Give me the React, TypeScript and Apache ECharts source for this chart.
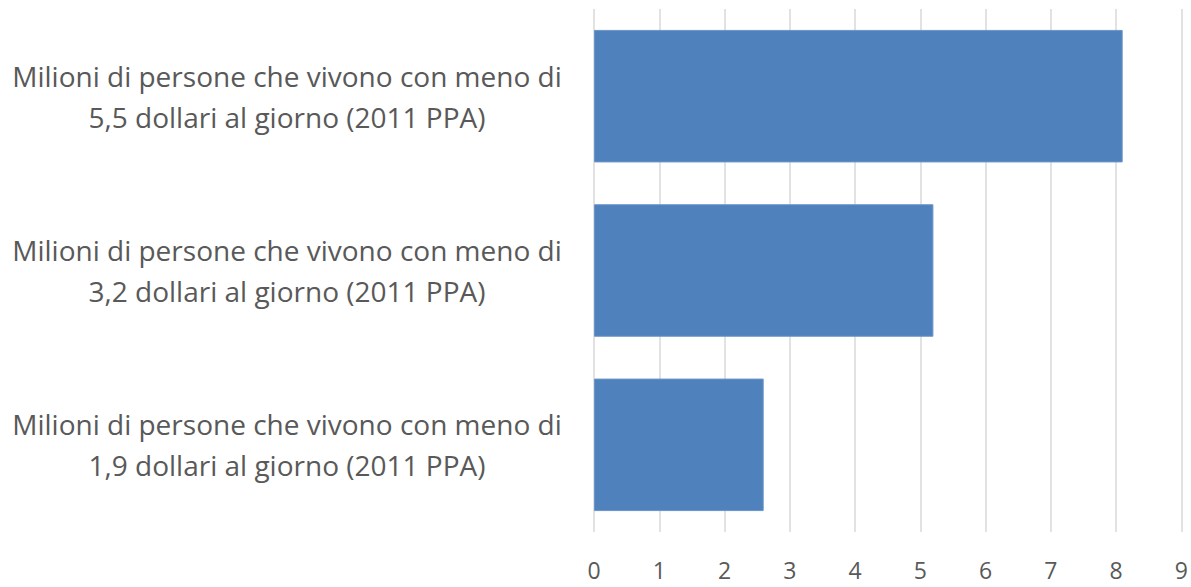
import React, { useEffect, useRef } from "react";
import * as echarts from "echarts";

const categories = [
  "Milioni di persone che vivono con meno di\n5,5 dollari al giorno (2011 PPA)",
  "Milioni di persone che vivono con meno di\n3,2 dollari al giorno (2011 PPA)",
  "Milioni di persone che vivono con meno di\n1,9 dollari al giorno (2011 PPA)",
];
const values = [8.1, 5.2, 2.6];
const xMin = 0;
const xMax = 9;
const xInterval = 1;

export default function App() {
  const ref = useRef<HTMLDivElement>(null);
  useEffect(() => {
    if (!ref.current) return;
    const chart = echarts.init(ref.current, undefined, { renderer: "svg" });
    chart.setOption({
      animation: false,
      grid: { left: 594, right: 9, top: 9, bottom: 55, containLabel: false },
      xAxis: {
        type: "value",
        min: xMin,
        max: xMax,
        interval: xInterval,
        axisLine: { show: false },
        axisTick: { show: false },
        splitLine: { show: true, lineStyle: { color: "#d9d9d9", width: 1.5 } },
        axisLabel: {
          color: "#595959",
          fontFamily: "Open Sans",
          fontSize: 23,
          lineHeight: 22,
          margin: 27,
        },
      },
      yAxis: {
        type: "category",
        inverse: true,
        data: categories,
        axisLine: { show: false },
        axisTick: { show: false },
        axisLabel: {
          color: "#595959",
          fontFamily: "Open Sans",
          fontSize: 28,
          lineHeight: 41,
          align: "center",
          margin: 307,
        },
      },
      series: [
        {
          type: "bar",
          data: values,
          barCategoryGap: "24%",
          itemStyle: { color: "#4f81bd", borderColor: "#6a95c8", borderWidth: 1 },
        },
      ],
    });
    return () => chart.dispose();
  }, []);
  return <div ref={ref} style={{ width: 1191, height: 587, position: "absolute", left: 0, top: 0 }} />;
}
